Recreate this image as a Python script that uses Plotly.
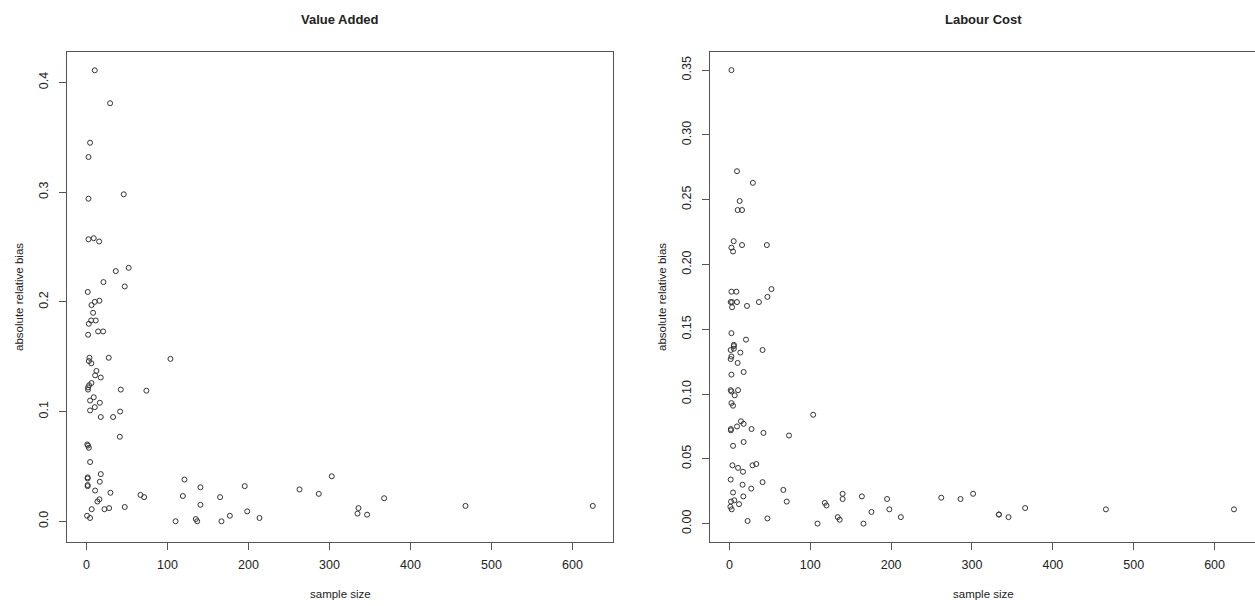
import plotly.graph_objects as go

# ---- Value Added panel data ----
va_size = [10.3, 4.5, 2.5, 2.5, 2.5, 9, 15.7, 1.6, 16, 10.3, 6.2, 8.2, 5.8, 11.5, 2.9, 14.4,
           2.1, 3.7, 3, 6, 12.3, 10.7, 17.7, 6.2, 3.3, 2, 2, 9, 4.5, 16.5, 10.3, 4.5, 17.7,
           1, 2, 3, 4.5, 17.7, 1.5, 1.5, 16.5, 1.5, 1.5, 10.7, 16, 13.6, 6.5, 0.8, 4.5,
           20.6, 21, 22.2, 27.5, 28, 29.2, 29.6, 32.9, 36.2,
           41.2, 41.6, 42.4, 46, 47.3, 47.3, 52.2, 66.7, 71.2, 74,
           103.7, 110, 119, 121, 135, 136.7, 140.7, 140.7, 165, 166.7, 177, 195.4, 198.4,
           213.6, 263, 286.8, 302.8, 334.6, 335.8, 346.5, 367.5, 467.9, 625]
va_bias = [0.411, 0.345, 0.332, 0.294, 0.257, 0.258, 0.255, 0.209, 0.201, 0.200, 0.197, 0.190,
           0.183, 0.183, 0.180, 0.173, 0.170, 0.149, 0.146, 0.144, 0.137, 0.133, 0.131, 0.126,
           0.124, 0.122, 0.120, 0.113, 0.110, 0.108, 0.104, 0.101, 0.095,
           0.070, 0.069, 0.067, 0.054, 0.043, 0.040, 0.039, 0.036, 0.033, 0.032, 0.028,
           0.020, 0.018, 0.011, 0.005, 0.003,
           0.173, 0.218, 0.011, 0.149, 0.012, 0.381, 0.026, 0.095, 0.228,
           0.077, 0.100, 0.120, 0.298, 0.214, 0.013, 0.231, 0.024, 0.022, 0.119,
           0.148, 0.000, 0.023, 0.038, 0.002, 0.000, 0.031, 0.015, 0.022, 0.000, 0.005,
           0.032, 0.009, 0.003, 0.029, 0.025, 0.041, 0.007, 0.012, 0.006, 0.021, 0.014, 0.014]

# ---- Labour Cost panel data ----
lc_size = [2.5, 9.4, 12.7, 10.2, 15.6, 5.3, 2.5, 4.5, 15.6, 2.5, 8.6, 1.6, 3.3, 9.4, 3.3,
           2.5, 5.5, 5.5, 5.5, 1.6, 13.5, 2.5, 1.6, 10.2, 17.6, 2.5, 1.6, 2.5, 10.7, 6.5,
           2.5, 4.5, 1.8, 1.8, 9.4, 14.3, 17.6, 4.5, 17.6, 3.7, 10.7, 16.8, 1.6, 16.3, 4.5,
           17.2, 2, 6.1, 11.9, 1.2, 2.8,
           20.5, 21.7, 22.5, 27, 27.4, 28.6, 29, 33.2, 36.5,
           41, 41, 42.1, 46.3, 47, 47, 52, 66.7, 70.9, 73.7,
           103.6, 109, 118, 120, 134, 136.4, 140, 140, 163.8, 165.8, 175.7, 195, 197.8,
           212, 262, 285.8, 301.4, 333.3, 333.3, 345.2, 365.7, 465.6, 624]
lc_bias = [0.350, 0.272, 0.249, 0.242, 0.242, 0.218, 0.213, 0.210, 0.215, 0.179, 0.179, 0.171,
           0.171, 0.171, 0.167, 0.147, 0.138, 0.137, 0.135, 0.134, 0.132, 0.129, 0.127, 0.124,
           0.117, 0.115, 0.103, 0.102, 0.103, 0.099, 0.093, 0.091, 0.073, 0.072, 0.075, 0.079,
           0.077, 0.060, 0.063, 0.045, 0.043, 0.040, 0.034, 0.030, 0.024, 0.021, 0.017, 0.018,
           0.015, 0.013, 0.011,
           0.142, 0.168, 0.002, 0.027, 0.073, 0.045, 0.263, 0.046, 0.171,
           0.134, 0.032, 0.070, 0.215, 0.175, 0.004, 0.181, 0.026, 0.017, 0.068,
           0.084, 0.000, 0.016, 0.014, 0.005, 0.003, 0.023, 0.019, 0.021, 0.000, 0.009,
           0.019, 0.011, 0.005, 0.020, 0.019, 0.023, 0.007, 0.007, 0.005, 0.012, 0.011, 0.011]

x_ticks = [0, 100, 200, 300, 400, 500, 600]
va_yticks = [0.0, 0.1, 0.2, 0.3, 0.4]
lc_yticks = [0.00, 0.05, 0.10, 0.15, 0.20, 0.25, 0.30, 0.35]

FONT = "Liberation Sans, Arial, sans-serif"
INK = "#222222"
LINE = "#555555"

marker = dict(symbol="circle-open", size=5, color="#333333", line=dict(width=1, color="#333333"))

fig = go.Figure()
fig.add_trace(go.Scatter(x=va_size, y=va_bias, mode="markers", marker=marker,
                         xaxis="x", yaxis="y", showlegend=False))
fig.add_trace(go.Scatter(x=lc_size, y=lc_bias, mode="markers", marker=marker,
                         xaxis="x2", yaxis="y2", showlegend=False))

W, H = 1255, 606
TOP, BOT = 52, 542
PH = BOT - TOP
L1, R1 = 67 / W, 613 / W
L2, R2 = 710 / W, 1.0


def py(pix):
    # convert a pixel row of the page into paper y (paper = plot area vertically)
    return (BOT - pix) / PH


axis_common = dict(showgrid=False, zeroline=False, showline=True, linecolor=LINE, linewidth=1,
                   ticks="outside", ticklen=7, tickwidth=1, tickcolor=LINE,
                   tickfont=dict(family=FONT, size=12.5, color=INK))

fig.update_layout(
    width=W, height=H,
    margin=dict(l=0, r=0, t=TOP, b=H - BOT),
    paper_bgcolor="white", plot_bgcolor="white",
    xaxis=dict(domain=[L1, R1], range=[-24, 650], tickvals=x_ticks, mirror=True,
               anchor="y", ticklabelstandoff=4, **axis_common),
    yaxis=dict(domain=[0, 1], range=[-0.0189, 0.4277], tickvals=va_yticks, tickformat=".1f",
               tickangle=-90, mirror=True, anchor="x", ticklabelstandoff=6, **axis_common),
    xaxis2=dict(domain=[L2, R2], range=[-24, 650], tickvals=x_ticks, mirror=True,
                anchor="y2", ticklabelstandoff=4, **axis_common),
    yaxis2=dict(domain=[0, 1], range=[-0.0142, 0.364], tickvals=lc_yticks, tickformat=".2f",
                tickangle=-90, mirror=False, anchor="x2", ticklabelstandoff=6, **axis_common),
)

ann = []
for text, cx in [("<b>Value Added</b>", (67 + 613) / 2), ("<b>Labour Cost</b>", (710 + 1256) / 2)]:
    ann.append(dict(text=text, x=cx / W, y=py(19), xref="paper", yref="paper",
                    showarrow=False, font=dict(family=FONT, size=13, color=INK),
                    xanchor="center", yanchor="middle"))
for cx in [(67 + 613) / 2, (710 + 1256) / 2]:
    ann.append(dict(text="sample size", x=cx / W, y=py(594), xref="paper", yref="paper",
                    showarrow=False, font=dict(family=FONT, size=11.5, color=INK),
                    xanchor="center", yanchor="middle"))
for cx in [19, 662]:
    ann.append(dict(text="absolute relative bias", x=cx / W, y=py(297), xref="paper", yref="paper",
                    showarrow=False, textangle=-90, font=dict(family=FONT, size=11.5, color=INK),
                    xanchor="center", yanchor="middle"))
fig.update_layout(annotations=ann)

fig.write_html("out.html")
